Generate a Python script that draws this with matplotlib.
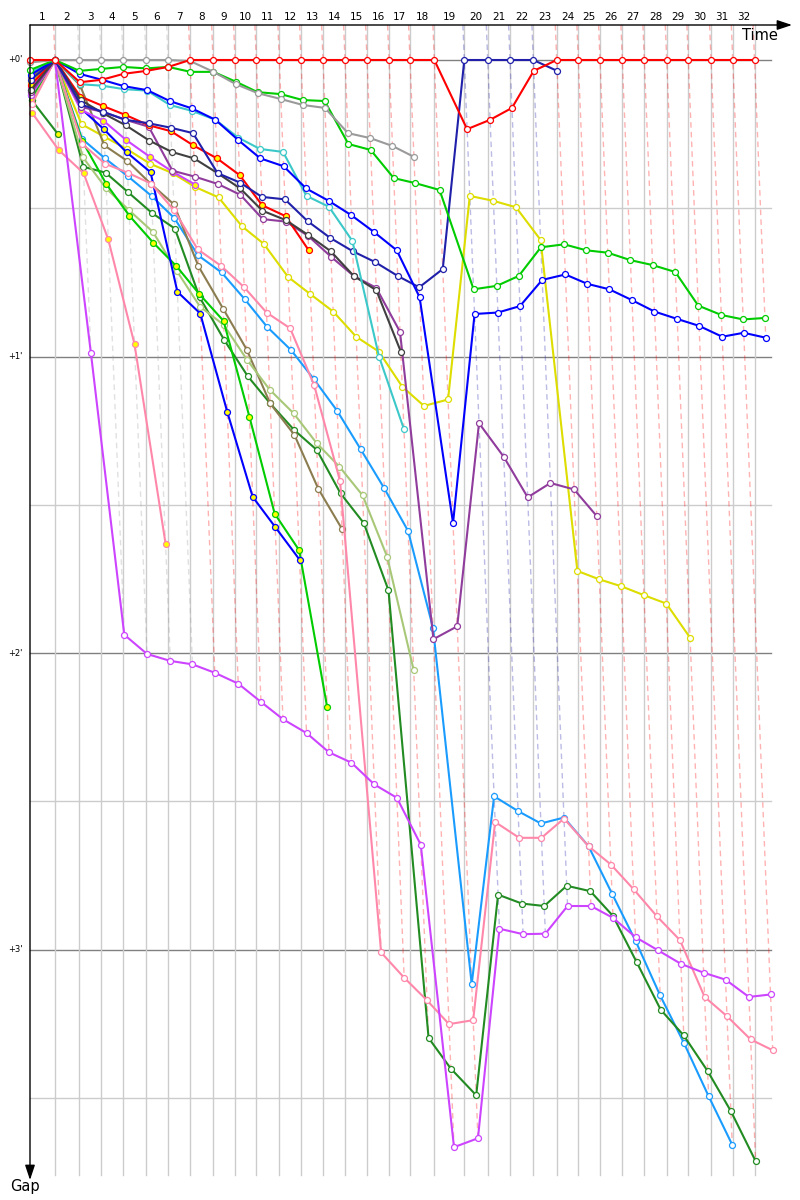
import numpy as np
import matplotlib
matplotlib.use('Agg')
from matplotlib import pyplot as plt

# leader lap times (s), lap 1..32
leader_lap_s = [125, 120, 110, 110, 115, 110, 110, 115, 110, 106.5, 115, 108.5,
                110, 110, 110, 110, 105, 121.5, 150, 117, 111.5, 116.5, 117, 108,
                108.5, 111.5, 110, 112, 108, 113.5, 108.5, 109]
lap_start = np.concatenate([[0], np.cumsum(leader_lap_s)])
lap_labels = [str(i) for i in range(1, 33)]

# gap to the leader (s) for every lap, starting at lap 0
red = [0, 0, 4.5, 4, 2.8, 2.2, 1.4, 0, 0, 0, 0, 0, 0, 0, 0, 0, 0, 0, 0,
       14, 12.1, 9.7, 2.2, 0, 0, 0, 0, 0, 0, 0, 0, 0, 0]
grey = [0.5, 0, 0, 0, 0, 0, 0, 0.2, 2.4, 4.9, 6.7, 7.9, 9.1, 9.7, 14.8, 15.8, 17.4, 19.6]
green = [2, 0, 2.2, 1.8, 1.4, 1.7, 1.4, 2.4, 2.4, 4.4, 6.5, 6.9, 8.1, 8.3, 17, 18.2,
         23.9, 24.9, 26.3, 46.4, 45.7, 43.7, 37.9, 37.3, 38.5, 39, 40.5, 41.5, 42.9,
         49.7, 51.6, 52.5, 52.2]
blue = [3, 0, 2.8, 4, 5.3, 6.1, 8.3, 9.8, 12.1, 16.2, 19.9, 21.5, 26, 28.5, 31.4,
        34.8, 38.5, 48, 93.7, 51.4, 51.1, 49.8, 44.5, 43.4, 45.3, 46.4, 48.6, 50.9,
        52.4, 53.8, 56, 55.2, 56.2]
cyan = [2.5, 0, 4.9, 5.2, 5.9, 6.2, 9.1, 10.3, 12.1, 15.7, 18, 18.6, 27.5, 29.7,
        36.6, 60, 74.7]
navy = [4, 0, 9, 10.5, 12.1, 12.8, 13.7, 14.8, 22.9, 24.8, 27.7, 28.2, 32.6, 36,
        38.7, 40.9, 43.7, 46, 42.3, 0, 0, 0, 0, 2.2]
darkgrey = [6, 0, 8.1, 10.8, 13.2, 16.3, 18.6, 19.9, 22.9, 26, 30.5, 32.4, 35.4,
            38.7, 43.7, 46.6, 59]
red_y = [5, 0, 7.4, 9.3, 11.1, 13.2, 14.4, 17.3, 19.9, 23.3, 29.4, 31.6, 38.5]
purple = [6.5, 0, 9.5, 10.5, 12.1, 13.5, 22.4, 23.6, 25.1, 27.3, 32.2, 32.7, 35.6,
          39.8, 43.7, 46.1, 55, 117.2, 114.6, 73.5, 80.3, 88.5, 85.6, 86.9, 92.3]
violet_y = [5.5, 0, 10.1, 12.3, 16.2, 19.6, 22.6, 25.2]
violet = [7, 0, 59.2, 116.3, 120.2, 121.6, 122.3, 124, 126.2, 129.9, 133.4, 136.2,
          140.1, 142.2, 146.6, 149.3, 158.8, 220, 218.2, 175.8, 176.9, 176.8, 171.2,
          171.2, 173.6, 177.5, 180.2, 182.9, 184.7, 186.1, 189.6, 189.1]
pink = [9, 0, 17, 21, 22.8, 25, 30.4, 38.3, 41.7, 46, 51.1, 54.3, 65.8, 85.2, 180.6,
        185.7, 190.3, 195.1, 194.3, 154.2, 157.4, 157.4, 153.5, 159.1, 162.8, 167.8,
        173.3, 178.1, 189.6, 193.5, 198.2, 200.4]
pink_y = [10.7, 18.2, 22.9, 36.3, 57.5, 97.9]
dkgreen_y = [8.1, 15]
blue_y = [6, 0, 9.8, 14, 18.7, 22.7, 46.9, 51.3, 71.2, 88.4, 94.5, 101.1]
green_y = [7.5, 0, 16.4, 25, 31.5, 37, 41.7, 47.4, 52.8, 72.2, 91.8, 99.2, 131]
lightolive = [8.5, 0, 19.7, 26, 30.4, 34.8, 42.6, 49.9, 53.6, 60.7, 66.7, 71.5,
              77.5, 82.3, 88.1, 100.5, 123.5]
olive = [3.5, 0, 5.1, 17.3, 20.4, 25.1, 29.2, 41.7, 50.3, 58.6, 69.5, 75.9, 86.8, 94.9]
dkgreen = [8, 0, 21.6, 22.8, 26.8, 31, 34.1, 48, 56.7, 64, 69.5, 74.9, 78.9, 87.7,
           93.7, 107.3, 197.9, 204.1, 209.5, 168.9, 170.7, 171.2, 167.1, 168.2, 173.2,
           182.5, 192.2, 197.4, 204.6, 212.7, 222.8]
lightblue = [7, 0, 16, 19.9, 23.5, 27.5, 32, 39.5, 43, 48.4, 54, 58.7, 64.6, 71, 78.8,
             86.7, 95.3, 114.9, 187, 149, 152, 154.5, 153.3, 159.1, 168.7, 178.3,
             189.3, 199, 209.7, 219.5]
yellow = [4.5, 0, 13, 15.5, 18, 21, 22.9, 25.7, 27.8, 33.6, 37.2, 43.9, 47.4, 50.9,
          56, 59, 66.1, 70, 68.7, 27.5, 28.5, 29.8, 36.4, 103.4, 105.1, 106.5, 108.3,
          110, 116.9]

drivers = [
    (red, '#ff0000', 'white'),
    (grey, '#9a9a9a', 'white'),
    (green, '#00cc00', 'white'),
    (blue, '#0000ff', 'white'),
    (cyan, '#3cc8c8', 'white'),
    (navy, '#2020aa', 'white'),
    (darkgrey, '#404040', 'white'),
    (red_y, '#ff0000', '#ffff00'),
    (purple, '#903c9c', 'white'),
    (violet_y, '#cc44ff', '#ffff00'),
    (violet, '#cc44ff', 'white'),
    (pink, '#ff88aa', 'white'),
    (pink_y, '#ff88aa', '#ffff00'),
    (dkgreen_y, '#228b22', '#ffff00'),
    (blue_y, '#0000ff', '#ffff00'),
    (green_y, '#00cc00', '#ffff00'),
    (lightolive, '#a8c878', 'white'),
    (olive, '#8b7d50', 'white'),
    (dkgreen, '#228b22', 'white'),
    (lightblue, '#1a9cff', 'white'),
    (yellow, '#dddd00', 'white'),
]

# pixel mapping: x_px = 30 + 0.2 * t, y_px = 60 + 4.9417 * gap
xs, ys = 0.2, 296.5 / 60
def tx(px):
    return (px - 30) / xs
def gy(py):
    return (py - 60) / ys

fig = plt.figure(figsize=(8, 12), dpi=100)
ax = fig.add_axes([0, 0, 1, 1])
ax.set_xlim(tx(0), tx(800))
ax.set_ylim(gy(1200), gy(0))
ax.axis('off')

top, bottom = gy(25), gy(1175)

# gap grid
for g in [30, 90, 150, 210]:
    ax.plot([0, tx(771)], [g, g], color='#cccccc', lw=1, zorder=1)
for g in [0, 60, 120, 180]:
    ax.plot([0, tx(771)], [g, g], color='#808080', lw=1, zorder=1)
    ax.text(tx(23), g, "+%d'" % (g // 60), ha='right', va='center', fontsize=6)

# lap lines
for t in lap_start[1:]:
    ax.plot([t, t], [top, bottom], color='#cccccc', lw=1, zorder=1)

for n in range(1, len(lap_start)):
    lap = [(d[n], c) for d, c, f in drivers if len(d) > n]
    gmax = max(g for g, c in lap)
    lead = min(lap, key=lambda p: p[0])[1]
    t = lap_start[n]
    ax.plot([t + top, t + gmax], [top, gmax], color=lead, alpha=0.3, lw=1,
            ls=(0, (4, 3)), zorder=2)

for n, lab in enumerate(lap_labels):
    ax.text((lap_start[n] + lap_start[n + 1]) / 2, gy(17), lab, ha='center',
            va='center', fontsize=7.5)

for d, c, f in reversed(drivers):
    g = np.array(d)
    t = lap_start[:len(g)] + g
    ax.plot(t, g, color=c, lw=1.5, marker='o', ms=4.3, mfc=f, mec=c, mew=0.9,
            zorder=3)

# axes with arrows
arrow = dict(arrowstyle='-|>,head_length=0.9,head_width=0.3', color='black', lw=1,
             shrinkA=0, shrinkB=0)
ax.annotate('', xy=(tx(792), top), xytext=(0, top), arrowprops=arrow, zorder=5)
ax.annotate('', xy=(0, gy(1180)), xytext=(0, top), arrowprops=arrow, zorder=5)
ax.text(tx(778), gy(36), 'Time', ha='right', va='center', fontsize=10.5)
ax.text(tx(25), gy(1187), 'Gap', ha='center', va='center', fontsize=10.5)

fig.savefig('out.png', dpi=100)
